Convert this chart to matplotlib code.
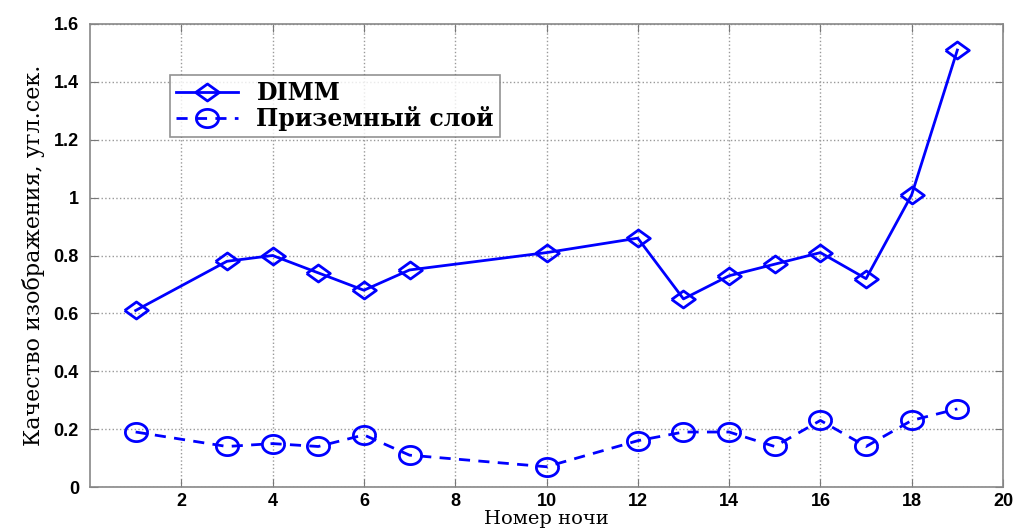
import numpy as np
import matplotlib.pyplot as plt

# Номер ночи
nights = [1, 3, 4, 5, 6, 7, 10, 12, 13, 14, 15, 16, 17, 18, 19]
# DIMM seeing, arcsec
dimm = [0.61, 0.78, 0.80, 0.74, 0.68, 0.75, 0.81, 0.86, 0.65, 0.73, 0.77, 0.81, 0.72, 1.01, 1.51]
# ground layer
ground = [0.19, 0.14, 0.15, 0.14, 0.18, 0.11, 0.07, 0.16, 0.19, 0.19, 0.14, 0.23, 0.14, 0.23, 0.27]

xticks = [2, 4, 6, 8, 10, 12, 14, 16, 18, 20]
yticks = [0, 0.2, 0.4, 0.6, 0.8, 1, 1.2, 1.4, 1.6]
ytick_labels = ['0', '0.2', '0.4', '0.6', '0.8', '1', '1.2', '1.4', '1.6']

# flattened markers (the original is a bit squashed vertically)
diamond = [(-1, 0), (0, 0.72), (1, 0), (0, -0.72), (-1, 0)]
th = np.linspace(0, 2 * np.pi, 60)
ellipse = list(zip(np.cos(th), 0.82 * np.sin(th)))

fig = plt.figure(figsize=(10.21, 5.31), dpi=100)
ax = fig.add_axes([90 / 1021, 1 - 487 / 531, 913 / 1021, 463 / 531])

blue = '#0000ff'
ax.plot(nights, dimm, '-', color=blue, lw=2, marker=diamond, ms=17,
        mfc='none', mew=2, label='DIMM')
ax.plot(nights, ground, '--', color=blue, lw=2, marker=ellipse, ms=16,
        mfc='none', mew=2, dashes=(4, 3), label='Приземный слой')

ax.set_xlim(0, 20)
ax.set_ylim(0, 1.6)
ax.set_xticks(xticks)
ax.set_yticks(yticks)
ax.set_yticklabels(ytick_labels)
ax.grid(True, ls=':', color='#999999', lw=1)
ax.tick_params(direction='in', length=6, color='#777777', labelsize=13,
               right=True, top=True)
ax.tick_params(axis='x', pad=4)
ax.tick_params(axis='y', pad=8)
for lbl in ax.get_xticklabels() + ax.get_yticklabels():
    lbl.set_fontfamily('Liberation Sans')
    lbl.set_fontweight('bold')
for s in ax.spines.values():
    s.set_color('#888888')
    s.set_linewidth(1.2)

ax.set_xlabel('Номер ночи', family='DejaVu Serif', fontsize=14, labelpad=0)
ax.set_ylabel('Качество изображения, угл.сек.', family='DejaVu Serif',
              fontsize=16, labelpad=6)

leg = ax.legend(loc='upper left', bbox_to_anchor=(0.075, 0.915), fancybox=False,
                edgecolor='#777777', handlelength=2.6,
                prop={'family': 'DejaVu Serif', 'size': 17, 'weight': 'bold'},
                borderpad=0.25, labelspacing=0.05)
leg.get_frame().set_linewidth(1.2)

fig.savefig('out.png', dpi=100)
